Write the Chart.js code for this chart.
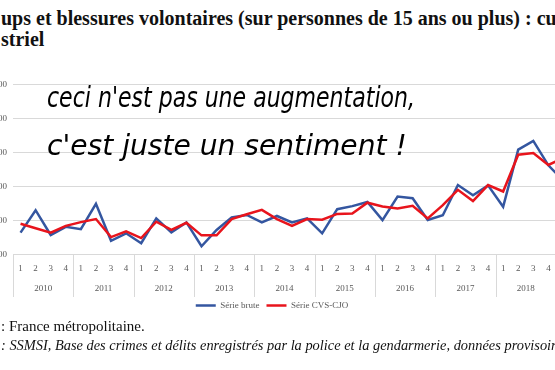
<!DOCTYPE html>
<html>
<head>
<meta charset="utf-8">
<script src="https://cdn.jsdelivr.net/npm/chart.js@4/dist/chart.umd.min.js"></script>
<style>
  body { margin: 0; background: #fff; }
  #page { position: relative; width: 555px; height: 370px; overflow: hidden; }
  .titre { position: absolute; left: 1px; white-space: nowrap; font-family: "Liberation Serif", serif; font-weight: bold; font-size: 20px; color: #111; }
  .note { position: absolute; left: 1px; white-space: nowrap; font-family: "Liberation Serif", serif; color: #111; }
  .bulle { position: absolute; left: 47px; white-space: nowrap; font-family: "DejaVu Sans", sans-serif; font-style: italic; font-size: 29px; color: #000; transform-origin: 0 0; }
  #wrap { position: absolute; left: -27px; top: 73px; width: 598px; height: 247px; }
</style>
</head>
<body>
<div id="page">
  <div class="titre" style="top:7px">ups et blessures volontaires (sur personnes de 15 ans ou plus) : cumul</div>
  <div class="titre" style="top:28px">striel</div>

  <div id="wrap"><canvas id="myChart" width="598" height="247"></canvas></div>

  <div class="bulle" style="top:80px;transform:scaleX(0.76)">ceci n'est pas une augmentation,</div>
  <div class="bulle" style="top:128px;transform:scaleX(0.97)">c'est juste un sentiment !</div>

  <div class="note" style="top:318px;font-size:15px">: France métropolitaine.</div>
  <div class="note" style="top:337px;font-size:14.4px;font-style:italic">: SSMSI, Base des crimes et délits enregistrés par la police et la gendarmerie, données provisoires</div>
</div>
<script>
// trimestres (1..4) et années
let annees = ['2010','2011','2012','2013','2014','2015','2016','2017','2018','2019'];
let trimestres = [];
for (let a = 0; a < 9; a++) {
    trimestres.push('1','2','3','4');
}
trimestres.push('1'); // 2019 T1, hors cadre

// valeurs
let serieBrute = [48200, 51500, 47850, 49050, 48700, 52450, 47000, 48100,
                  46650, 50300, 48250, 49700, 46200, 48600, 50450, 50800,
                  49700, 50650, 49700, 50300, 48100, 51650, 52100, 52700,
                  50050, 53500, 53250, 50050, 50750, 55200, 53700, 55150,
                  52000, 60400, 61700, 58100, 55800];
let serieCvs = [49500, 48850, 48200, 49200, 49750, 50200, 47550, 48400,
                47400, 49800, 48600, 49650, 47800, 47800, 50200, 50900,
                51550, 50200, 49200, 50200, 50100, 50950, 51000, 52600,
                52050, 51750, 52150, 50300, 52250, 54500, 52850, 55200,
                54250, 59650, 59900, 58150, 59200];

let gris = '#d9d9d9';
let texteGris = '#595959';

let bornes = [];
let centres = [];
for (let a = 0; a <= 9; a++) {
    bornes.push(a * 4 - 0.5);
    if (a < 9) centres.push(a * 4 + 1.5);
}

// traits verticaux entre les années, sous l'axe
let separateurs = {
    id: 'separateurs',
    afterDraw: function(chart) {
        let an = chart.scales.an;
        let c = chart.ctx;
        c.save();
        c.strokeStyle = gris;
        c.lineWidth = 1;
        bornes.forEach(function(b) {
            let px = Math.round(an.getPixelForValue(b)) + 0.5;
            c.beginPath();
            c.moveTo(px, chart.chartArea.bottom);
            c.lineTo(px, an.bottom + 3);
            c.stroke();
        });
        c.restore();
    }
};

let ctx = document.getElementById('myChart').getContext('2d');
let chart = new Chart(ctx, {
    type: 'line',
    data: {
        labels: trimestres,
        datasets: [{
            label: 'Série brute',
            data: serieBrute,
            borderColor: '#3456a0',
            backgroundColor: '#3456a0',
            borderWidth: 2.5,
            pointRadius: 0,
            tension: 0,
            order: 1
        }, {
            label: 'Série CVS-CJO',
            data: serieCvs,
            borderColor: '#e8141c',
            backgroundColor: '#e8141c',
            borderWidth: 2.5,
            pointRadius: 0,
            tension: 0,
            order: 0
        }]
    },
    options: {
        responsive: false,
        animation: false,
        layout: { padding: 0 },
        plugins: {
            tooltip: { enabled: false },
            legend: {
                position: 'bottom',
                labels: {
                    usePointStyle: true,
                    pointStyle: 'line',
                    pointStyleWidth: 20,
                    padding: 7,
                    color: texteGris,
                    font: { family: 'Liberation Serif', size: 9 },
                    sort: function(a, b) { return a.datasetIndex - b.datasetIndex; }
                }
            }
        },
        scales: {
            y: {
                min: 45000,
                max: 70000,
                afterFit: function(scale) { scale.width = 40; },
                ticks: {
                    stepSize: 5000,
                    padding: 6,
                    color: texteGris,
                    font: { family: 'Liberation Serif', size: 9 },
                    callback: function(v) { return v.toLocaleString('fr-FR').replace(/\s/g, ' '); }
                },
                grid: { color: gris, drawTicks: false },
                border: { display: false }
            },
            x: {
                offset: true,
                grid: { display: false },
                border: { display: false },
                ticks: {
                    autoSkip: false,
                    maxRotation: 0,
                    padding: 1,
                    color: texteGris,
                    font: { family: 'Liberation Serif', size: 9 }
                }
            },
            an: {
                type: 'linear',
                position: 'bottom',
                min: -0.5,
                max: trimestres.length - 0.5,
                afterBuildTicks: function(scale) {
                    scale.ticks = centres.map(function(v) { return { value: v }; });
                },
                grid: { display: false },
                border: { display: false },
                ticks: {
                    autoSkip: false,
                    maxRotation: 0,
                    padding: 0,
                    color: texteGris,
                    font: { family: 'Liberation Serif', size: 9 },
                    callback: function(v) {
                        let i = centres.indexOf(v);
                        return i >= 0 ? annees[i] : '';
                    }
                }
            }
        }
    },
    plugins: [separateurs]
});
</script>
</body>
</html>
